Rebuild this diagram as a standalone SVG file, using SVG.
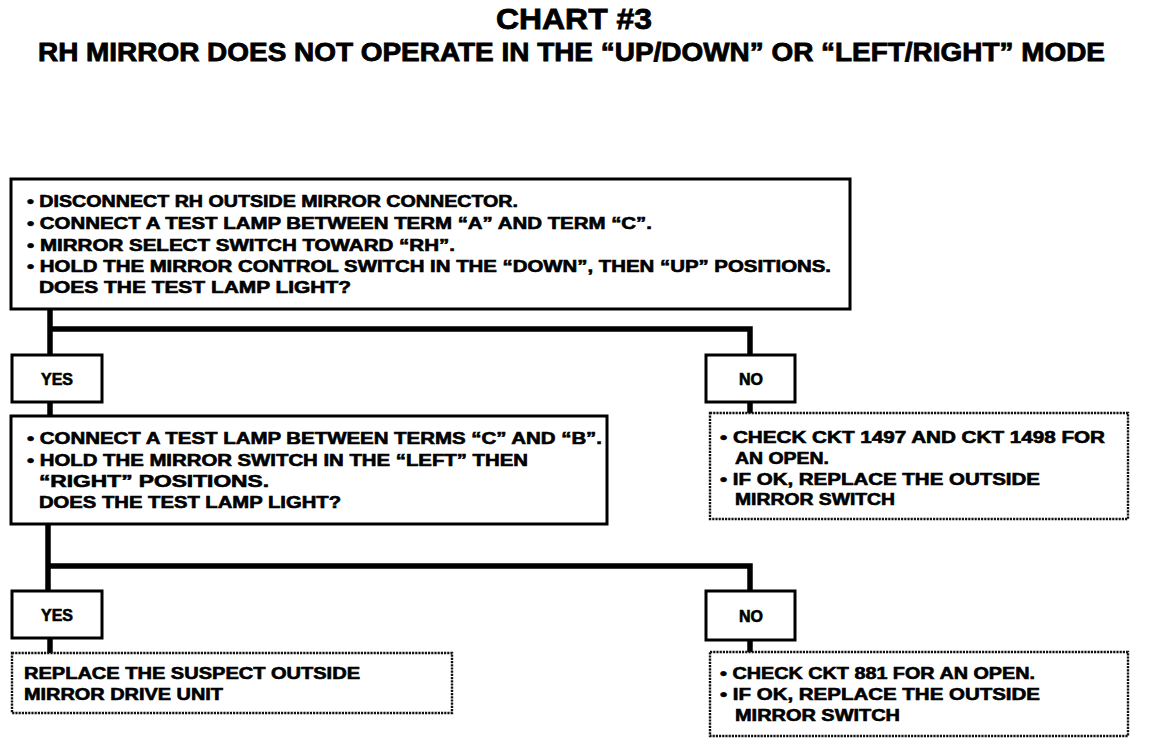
<svg xmlns="http://www.w3.org/2000/svg" width="1152" height="742" viewBox="0 0 1152 742">
<style>
.bg{fill:#fff}
.box{fill:#fff;stroke:#000;stroke-width:3}
.dot{fill:#fff;stroke:#111;stroke-width:2.4;stroke-dasharray:2.2 1}
.t{font-family:"Liberation Sans",Arial,sans-serif;font-weight:bold;font-size:16px;fill:#000;stroke:#000;stroke-width:0.6}
.ttl{font-family:"Liberation Sans Narrow","Liberation Sans",Arial,sans-serif;font-weight:bold;fill:#000;stroke:#000;stroke-width:0.8}
.c{fill:none;stroke:#000;stroke-width:5.5}
</style>
<rect class="bg" x="0" y="0" width="1152" height="742"/>
<g id="title">
<text class="ttl" x="496" y="29" font-size="30" textLength="156" lengthAdjust="spacingAndGlyphs">CHART #3</text>
<text class="ttl" x="38" y="61" font-size="25" textLength="1067" lengthAdjust="spacingAndGlyphs">RH MIRROR DOES NOT OPERATE IN THE “UP/DOWN” OR “LEFT/RIGHT” MODE</text>
</g>
<g id="connectors">
<path class="c" d="M50 309V355M50 329H750V355"/>
<path class="c" d="M50 402V416"/>
<path class="c" d="M750 402V413"/>
<path class="c" d="M48 524V591M48 566H750V591"/>
<path class="c" d="M50 638V653"/>
<path class="c" d="M750 640V652"/>
</g>
<g id="step1">
<rect class="box" x="11" y="179" width="839" height="130"/>
<text class="t" x="27" y="207" textLength="491" lengthAdjust="spacingAndGlyphs">• DISCONNECT RH OUTSIDE MIRROR CONNECTOR.</text>
<text class="t" x="27" y="229" textLength="625" lengthAdjust="spacingAndGlyphs">• CONNECT A TEST LAMP BETWEEN TERM “A” AND TERM “C”.</text>
<text class="t" x="27" y="251" textLength="428" lengthAdjust="spacingAndGlyphs">• MIRROR SELECT SWITCH TOWARD “RH”.</text>
<text class="t" x="27" y="272" textLength="804" lengthAdjust="spacingAndGlyphs">• HOLD THE MIRROR CONTROL SWITCH IN THE “DOWN”, THEN “UP” POSITIONS.</text>
<text class="t" x="39" y="293" textLength="312" lengthAdjust="spacingAndGlyphs">DOES THE TEST LAMP LIGHT?</text>
</g>
<g id="yes1">
<rect class="box" x="12" y="355" width="90" height="47"/>
<text class="t" x="57" y="385" text-anchor="middle">YES</text>
</g>
<g id="no1">
<rect class="box" x="706" y="355" width="89" height="47"/>
<text class="t" x="751" y="385" text-anchor="middle">NO</text>
</g>
<g id="step2">
<rect class="box" x="11" y="416" width="596" height="108"/>
<text class="t" x="27" y="444" textLength="575" lengthAdjust="spacingAndGlyphs">• CONNECT A TEST LAMP BETWEEN TERMS “C” AND “B”.</text>
<text class="t" x="27" y="466" textLength="501" lengthAdjust="spacingAndGlyphs">• HOLD THE MIRROR SWITCH IN THE “LEFT” THEN</text>
<text class="t" x="39" y="487" textLength="230" lengthAdjust="spacingAndGlyphs">“RIGHT” POSITIONS.</text>
<text class="t" x="39" y="508" textLength="302" lengthAdjust="spacingAndGlyphs">DOES THE TEST LAMP LIGHT?</text>
</g>
<g id="result1">
<rect class="dot" x="710" y="413" width="418" height="106"/>
<text class="t" x="720" y="443" textLength="385" lengthAdjust="spacingAndGlyphs">• CHECK CKT 1497 AND CKT 1498 FOR</text>
<text class="t" x="735" y="464" textLength="94" lengthAdjust="spacingAndGlyphs">AN OPEN.</text>
<text class="t" x="720" y="485" textLength="320" lengthAdjust="spacingAndGlyphs">• IF OK, REPLACE THE OUTSIDE</text>
<text class="t" x="735" y="505" textLength="160" lengthAdjust="spacingAndGlyphs">MIRROR SWITCH</text>
</g>
<g id="yes2">
<rect class="box" x="12" y="591" width="90" height="47"/>
<text class="t" x="57" y="621" text-anchor="middle">YES</text>
</g>
<g id="no2">
<rect class="box" x="706" y="591" width="89" height="49"/>
<text class="t" x="751" y="622" text-anchor="middle">NO</text>
</g>
<g id="result2">
<rect class="dot" x="12" y="653" width="440" height="60"/>
<text class="t" x="24" y="679" textLength="336" lengthAdjust="spacingAndGlyphs">REPLACE THE SUSPECT OUTSIDE</text>
<text class="t" x="24" y="700" textLength="199" lengthAdjust="spacingAndGlyphs">MIRROR DRIVE UNIT</text>
</g>
<g id="result3">
<rect class="dot" x="710" y="652" width="418" height="84"/>
<text class="t" x="720" y="679" textLength="315" lengthAdjust="spacingAndGlyphs">• CHECK CKT 881 FOR AN OPEN.</text>
<text class="t" x="720" y="700" textLength="320" lengthAdjust="spacingAndGlyphs">• IF OK, REPLACE THE OUTSIDE</text>
<text class="t" x="735" y="721" textLength="165" lengthAdjust="spacingAndGlyphs">MIRROR SWITCH</text>
</g>
</svg>
